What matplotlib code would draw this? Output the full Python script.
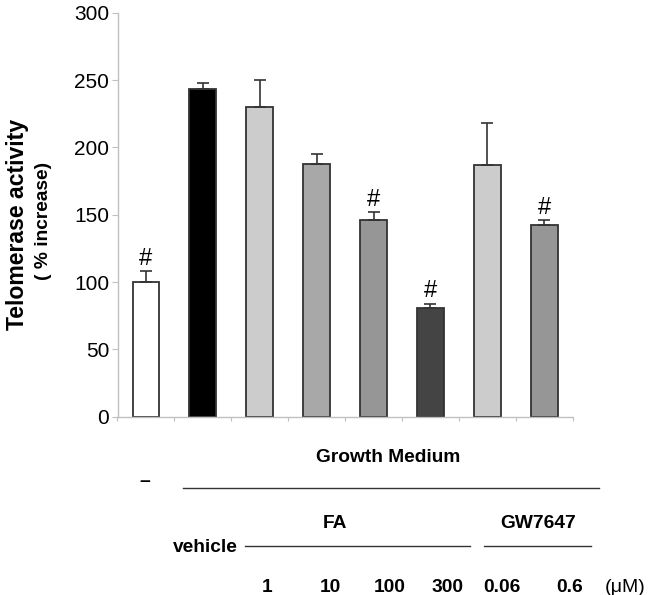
import matplotlib
matplotlib.use("Agg")
import matplotlib.pyplot as plt

plt.rcParams['font.family'] = ['Liberation Sans', 'DejaVu Sans']

values = [100, 243, 230, 188, 146, 81, 187, 142]
errors = [8, 5, 20, 7, 6, 3, 31, 4]
colors = ['#ffffff', '#000000', '#cccccc', '#a8a8a8', '#969696', '#444444', '#cccccc', '#969696']
marked = [True, False, False, False, True, True, False, True]
yticks = [0, 50, 100, 150, 200, 250, 300]
conc_labels = ['1', '10', '100', '300', '0.06', '0.6', '(\u03bcM)']

fig = plt.figure(figsize=(6.67, 5.95), dpi=100)
ax = fig.add_axes([117.5/667, 1-416.7/595, (572.7-117.5)/667, (416.7-12.7)/595])

x = list(range(len(values)))
ax.bar(x, values, width=0.47, color=colors, edgecolor='#333333', linewidth=1.3, zorder=2)
ax.errorbar(x, values, yerr=[[0]*len(errors), errors], fmt='none', ecolor='#333333',
            elinewidth=1.2, capsize=4.5, capthick=1.2, zorder=3)
for xi, v, e, m in zip(x, values, errors, marked):
    if m:
        ax.annotate('#', (xi, v + e), xytext=(0, 1), textcoords='offset points',
                    ha='center', va='bottom', fontsize=17)

ax.set_xlim(-0.5, len(values) - 0.5)
ax.set_ylim(0, 300)
ax.set_yticks(yticks)
ax.set_yticklabels([str(t) for t in yticks], fontsize=15)
ax.set_xticks([i - 0.5 for i in range(len(values) + 1)])
ax.set_xticklabels([])
ax.tick_params(axis='x', direction='out', length=3, color='#c0c0c0')
ax.tick_params(axis='y', direction='out', length=4, color='#c0c0c0', pad=2)
for s in ['top', 'right']:
    ax.spines[s].set_visible(False)
for s in ['left', 'bottom']:
    ax.spines[s].set_color('#c0c0c0')
    ax.spines[s].set_linewidth(1.0)

# y labels
fig.text(18/667, 1-224/595, 'Telomerase activity', rotation=90, fontsize=16.6,
         fontweight='bold', ha='center', va='center')
fig.text(44/667, 1-221/595, '( % increase)', rotation=90, fontsize=13.8,
         fontweight='bold', ha='center', va='center')

def ft(xp, yp, s, size=13.8):
    fig.text(xp/667, 1-yp/595, s, ha='center', va='center', fontsize=size,
             fontweight='bold')

def fl(x0, x1, yp):
    fig.add_artist(plt.Line2D([x0/667, x1/667], [1-yp/595, 1-yp/595],
                              color='#333333', linewidth=1.0, transform=fig.transFigure))

ft(388, 457, 'Growth Medium')
ft(145, 482, '\u2013')
fl(183, 599, 487.7)
ft(335, 524, 'FA')
ft(538, 524, 'GW7647')
ft(205, 547, 'vehicle')
fl(245, 470, 546)
fl(484, 591, 546)
conc_x = [267, 330, 390, 448, 502, 570]
for cx, lab in zip(conc_x, conc_labels[:-1]):
    ft(cx, 587, lab)
fig.text(625/667, 1-587/595, conc_labels[-1], ha='center', va='center', fontsize=14)

fig.savefig('out.png', dpi=100)
